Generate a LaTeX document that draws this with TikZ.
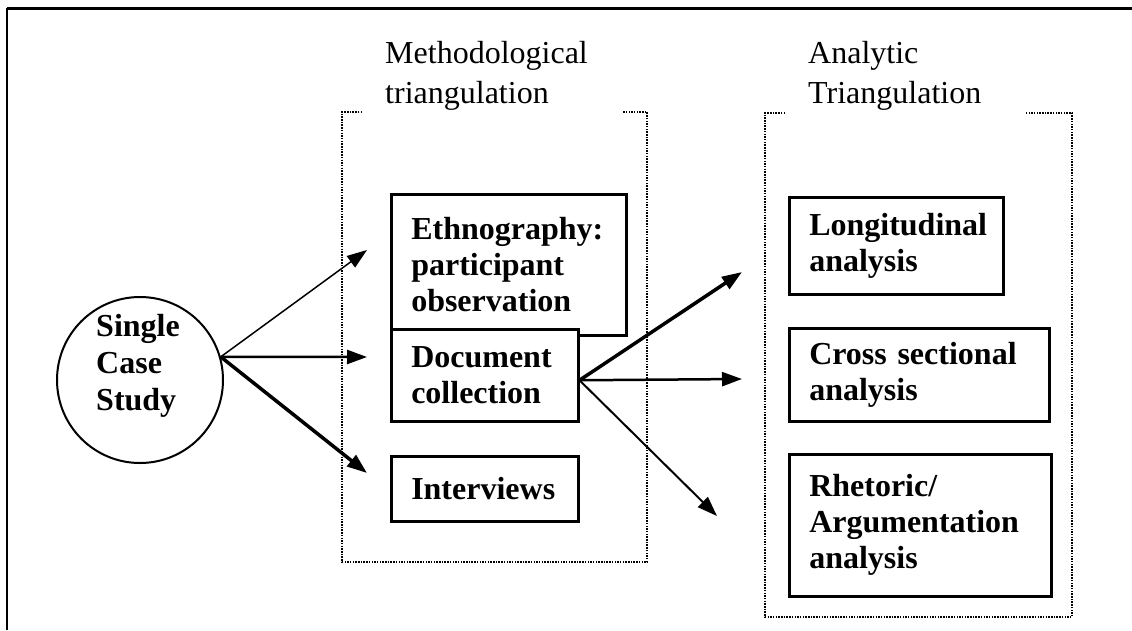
\documentclass[tikz,border=0pt]{standalone}
\usepackage{fontspec}
\setmainfont{Liberation Serif}
\usetikzlibrary{arrows.meta}

\begin{document}
\begin{tikzpicture}[x=1pt,y=-1pt,
    box/.style={draw,line width=2.5pt,fill=white,anchor=north west,align=left,
      inner xsep=20pt,inner ysep=0pt,font=\fontsize{32}{36}\selectfont\bfseries},
    title/.style={anchor=north west,align=left,inner sep=0pt,font=\fontsize{32}{40}\selectfont},
    bracket/.style={line width=1.5pt,dash pattern=on 1.5pt off 1.2pt},
    arr/.style={-{Triangle[length=20pt,width=14pt]}}]
  \useasboundingbox (0,0) rectangle (1132,630);

  % Outer frame (top and left only)
  \draw[line width=3pt] (1132,8) -- (7,8);
  \draw[line width=2pt] (7,8) -- (7,630);

  % Titles over the two groups
  \node[title] (mtitle) at (385,41) {Methodological\\triangulation};
  \node[title] (atitle) at (808,41) {Analytic\\Triangulation};

  % Dotted brackets
  \draw[bracket] (362,112) -- (342,112) -- (342,562) -- (647,562) -- (647,112) -- (623,112);
  \draw[bracket,line width=2pt] (785,113) -- (765,113) -- (765,617) -- (1072,617) -- (1072,113) -- (1025,113);

  % The case
  \node[circle,draw,line width=2pt,minimum size=166pt,inner sep=0pt] (case) at (140,380) {};
  \node[align=left,inner sep=0pt,font=\fontsize{32}{37}\selectfont\bfseries] (casetext) at (138,366) {Single\\Case\\Study};

  % Methods
  \node[box,text width=195pt,minimum height=141pt] (ethno) at (390,193) {Ethnography:\\participant\\observation};
  \node[box,text width=147pt,minimum height=92pt] (doc) at (390,328) {Document\\collection};
  \node[box,text width=147pt,minimum height=65pt] (inter) at (390,455) {Interviews};

  % Analyses
  \node[box,text width=174pt,minimum height=97pt] (longi) at (788,196) {Longitudinal\\analysis};
  \node[box,text width=220pt,minimum height=93pt] (cross) at (788,327) {Cross sectional\\analysis};
  \node[box,text width=222pt,minimum height=142pt] (rhet) at (788,453) {Rhetoric/\\Argumentation\\analysis};

  % Arrow ends
  \coordinate (e1) at (367,250);
  \coordinate (e2) at (367,357);
  \coordinate (e3) at (367,473);
  \coordinate (f1) at (742,272);
  \coordinate (f2) at (742,379);
  \coordinate (f3) at (717,516);

  % Arrows
  \draw[arr,line width=1.5pt] (case.16) -- (e1);
  \draw[arr,line width=2.5pt] (case.16) -- (e2);
  \draw[arr,line width=3.5pt] (case.16) -- (e3);
  \draw[arr,line width=3.5pt] ([yshift=-5pt]doc.east) -- (f1);
  \draw[arr,line width=2.5pt] ([yshift=-5pt]doc.east) -- (f2);
  \draw[arr,line width=2pt] ([yshift=-5pt]doc.east) -- (f3);
\end{tikzpicture}
\end{document}
